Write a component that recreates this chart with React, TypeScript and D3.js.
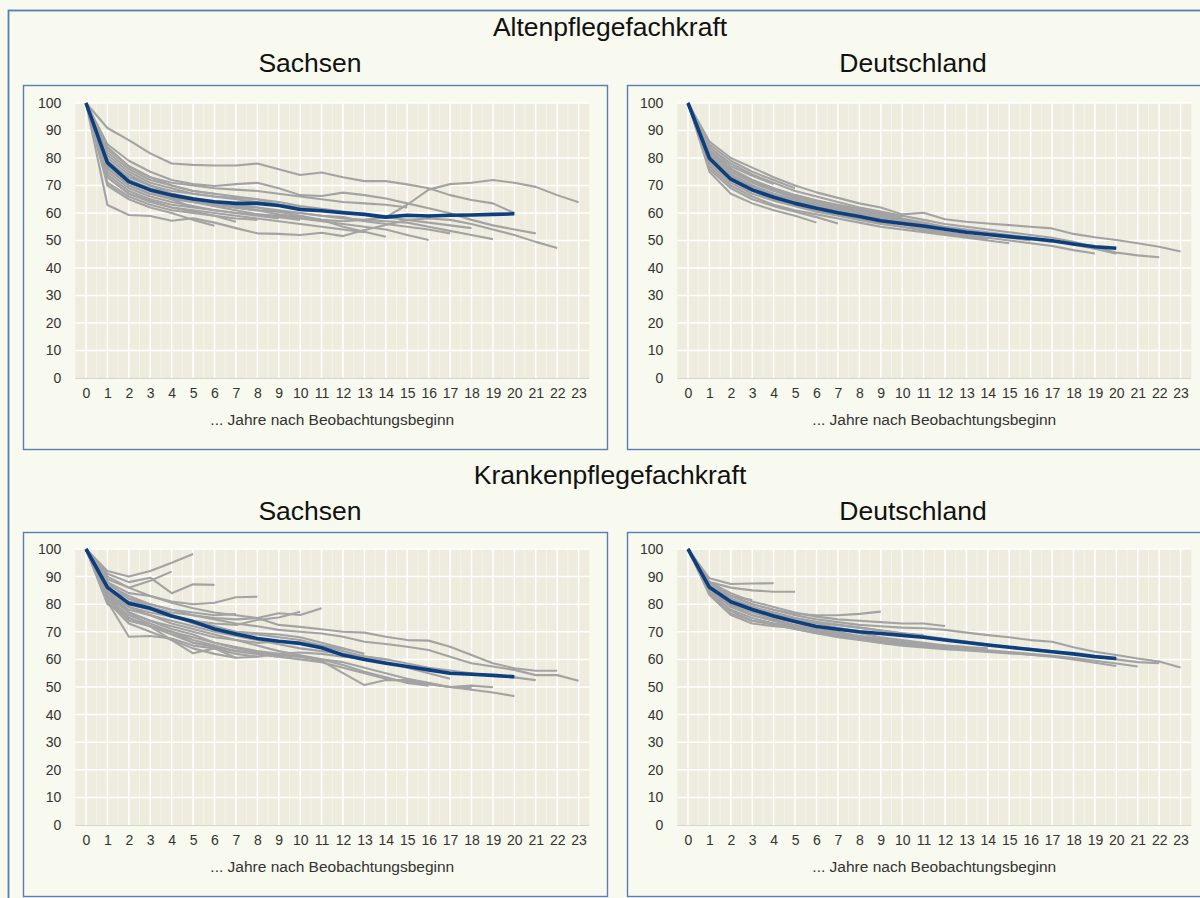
import React, { useEffect, useRef } from 'react';
import * as d3 from 'd3';

// categories and ticks
const years = ['0', '1', '2', '3', '4', '5', '6', '7', '8', '9', '10', '11', '12', '13', '14', '15', '16', '17', '18', '19', '20', '21', '22', '23'];
const yTicks = [0, 10, 20, 30, 40, 50, 60, 70, 80, 90, 100];

// Altenpflegefachkraft - Sachsen
const altenSachsenMean = [100, 78.3, 71.4, 68.4, 66.5, 65.1, 64.1, 63.5, 63.5, 62.7, 61.3, 60.8, 60.1, 59.5, 58.5, 59.2, 58.9, 59.2, 59.3, 59.5, 59.7];
const altenSachsenCohorts = [
  [100, 90.9, 86.5, 81.7, 78, 77.5, 77.3, 77.3, 78, 75.9, 73.8, 74.7, 73, 71.6, 71.6, 70.4, 69, 66.5, 64.7, 63.5, 60],
  [100, 85, 79, 75, 72, 70.5, 69.8, 70.5, 71, 69, 66.5, 66.2, 67.4, 66.5, 65.3, 63.5, 61.7, 59.9, 57.5, 55.5, 54, 52.6],
  [100, 80, 74, 70, 67, 65, 63.5, 62, 61, 59.5, 58.5, 57.5, 57, 57.5, 58.5, 63, 68.5, 70.5, 71, 72, 71, 69.5, 66.5, 63.9],
  [100, 62.9, 59.3, 58.9, 57.2, 58.1, 56.5, 54.5, 52.6, 52.4, 52, 52.8, 51.6, 53.8, 55.6, 57.5, 58, 57.5, 56, 54, 52, 49.5, 47.3],
  [100, 76, 70, 67, 65, 64, 63, 62, 61, 60.5, 60, 59, 58, 57.5, 57, 56.5, 55, 53.5, 52, 50.5],
  [100, 74, 68, 65, 63, 62, 61, 60, 59.5, 59, 58, 57, 56, 55, 54, 52, 50.2],
  [100, 78, 72, 69, 67, 65.5, 64, 63, 62, 60.5, 59, 57.5, 55, 53.2, 51.4],
  [100, 79, 73, 70, 68, 67, 66, 65.5, 65, 64, 62.5, 61.5, 60.5, 59.5, 58.5, 57.5, 56.5, 55.5, 54.5],
  [100, 77, 71, 68, 66, 64.5, 63.5, 62.5, 62, 61, 60, 59, 58.5, 57, 56, 55, 54, 52.6],
  [100, 73, 67, 64, 62, 61, 60, 59, 58, 57, 56, 55, 54, 53],
  [100, 84, 77, 73, 70, 68, 67, 66, 65, 63, 62, 61, 60],
  [100, 81, 75, 71, 69, 67, 66, 65, 64, 63, 62, 61],
  [100, 78, 72, 68, 66, 64, 62.5, 61, 59.5, 58.5, 57.5],
  [100, 75, 69, 66, 64, 62.5, 61, 60, 59, 58],
  [100, 71, 66, 63, 61, 60, 59, 58, 57.5],
  [100, 77, 70, 67, 65.5, 64, 63, 62, 61],
  [100, 73, 67, 64.5, 62, 60.5, 59, 56.8],
  [100, 70, 65, 62, 60, 57.5, 55.4],
  [100, 82, 76, 72, 70, 68, 67],
  [100, 79, 72, 68, 65, 62],
  [100, 83, 77, 73, 71, 70, 69, 68.5, 68, 67, 66, 65, 64, 63.5, 63, 62],
];

// Altenpflegefachkraft - Deutschland
const altenDeutschMean = [100, 79.9, 72.3, 68.4, 65.7, 63.5, 61.7, 60.1, 58.7, 57.2, 56.2, 55.3, 54.1, 53, 52.2, 51.4, 50.7, 49.9, 48.7, 47.7, 47.2];
const altenDeutschCohorts = [
  [100, 86, 80, 76.5, 73, 70, 67.5, 65.5, 63.5, 62, 59.5, 60.1, 57.7, 56.8, 56.2, 55.6, 55, 54.4, 52.4, 51.2, 50.2, 49, 47.7, 46],
  [100, 84, 78, 74, 71, 68, 66, 64, 62, 60.5, 59, 57.5, 56, 55, 54, 53, 52, 51, 49.5, 47.5, 45.6, 44.6, 43.9],
  [100, 82, 76, 72, 69, 66.5, 64.5, 62.5, 61, 59.5, 58, 56.5, 55, 54, 53, 52, 51, 50, 48.5, 47, 45.2],
  [100, 78, 71, 67, 64.5, 62.5, 60.5, 59, 57.5, 56, 55, 54, 53, 52, 51, 50, 49, 48, 46.5, 45.3],
  [100, 77, 70, 66, 63, 61, 59.5, 58, 56.5, 55, 54, 53, 52, 51, 50, 49],
  [100, 85, 79, 75, 72, 69],
  [100, 75, 67, 63.5, 61, 59, 56.5],
  [100, 76, 69, 65, 62.5, 60.5, 58.5, 56.2],
  [100, 81, 74, 70, 67, 65, 63, 61.5, 60],
  [100, 79, 72, 68, 65.5, 63, 61, 59.5, 58, 56.5],
  [100, 83, 76, 72, 69, 66.5, 64.5, 63, 61.5, 60, 58.5],
  [100, 80, 73, 69, 66, 64, 62, 60.5, 59, 57.5, 56, 54.5],
  [100, 82, 75, 71, 68, 65.5, 63.5, 62, 60.5, 59, 57.5, 56, 54.5],
  [100, 80.5, 73.5, 69.5, 66.5, 64, 62, 60.5, 59, 57.5, 56, 54.5, 53, 52],
  [100, 79, 72, 68, 65, 63, 61, 59.5, 58, 56.5, 55, 53.5, 52.5, 51.5, 50.5],
  [100, 81, 74, 70, 67, 64.5, 62.5, 61, 59.5, 58, 56.5, 55.5, 54.5, 53.5, 52.5, 51.5, 50.5, 49.5],
  [100, 82.5, 76, 71.5, 68.5, 66, 64, 62, 60, 58.5, 57, 55.5, 54, 53, 52, 51, 50],
  [100, 84, 77, 73.5, 70.5],
];

// Krankenpflegefachkraft - Sachsen
const krankenSachsenMean = [100, 86.1, 80.3, 78.5, 75.7, 73.7, 71, 69.2, 67.6, 66.6, 65.8, 64.2, 61.6, 60, 58.6, 57.4, 56.2, 55, 54.6, 54.2, 53.7];
const krankenSachsenCohorts = [
  [100, 92, 90, 92, 95, 98.2],
  [100, 89, 86, 88.5, 91.8],
  [100, 91, 88, 89.6, 84, 87.2, 87],
  [100, 88, 84, 83, 81, 80, 80.5, 82.5, 82.7],
  [100, 86, 82, 80, 78, 77, 76, 76.4],
  [100, 85, 81, 79, 77, 76, 75, 74.5, 75, 76.7, 76.1, 78.5],
  [100, 90, 86, 83, 80.5, 78.5, 77, 76, 75, 72.5, 71.8, 70.9, 70, 69.7, 68.2, 67, 66.8, 64.6, 61.6, 58.6, 56.8, 55.9, 55.9],
  [100, 87, 83, 80, 78, 76, 74.5, 73, 72, 70.7, 70, 69.4, 68.2, 66.4, 65.6, 64.6, 63.4, 61, 58.6, 57.4, 56.2, 54.3, 54.3, 52.3],
  [100, 84, 78, 76, 74, 72, 70, 68.5, 67, 65.5, 64, 63, 62, 61, 60, 58.5, 57, 56, 55, 54, 53.5, 52.5],
  [100, 82, 74, 72, 70, 68, 66, 64.5, 63, 62, 61, 60, 59, 57, 55, 53, 51.5, 50, 49, 48, 46.7],
  [100, 80, 75, 72, 69, 66, 64.5, 63, 62, 61, 60, 59, 57, 55, 53, 52, 51, 50, 49.6],
  [100, 81, 68.2, 68.5, 67.6, 65, 64, 62, 61, 62, 62.5, 62, 61, 60.5, 59, 57, 55, 53],
  [100, 83, 77, 74, 71, 69, 66, 64, 62.5, 61.5, 61, 59.5, 55, 50.7, 52.5, 52.5, 51, 50, 50.5, 49.9],
  [100, 86, 79, 76, 73, 71, 69, 67, 65, 63, 61.5, 60, 58, 55.5, 53.5, 51.5, 50.5],
  [100, 84, 77, 74, 72, 70, 68, 67, 66, 66.5, 66, 65, 64],
  [100, 84, 79, 77, 75.5, 74, 73, 72.5, 74.3, 75.2, 77.3],
  [100, 83, 75, 72, 70, 67, 65, 63, 62, 61],
  [100, 81, 73, 70, 67, 64, 62, 60.6, 61],
  [100, 85, 77, 72, 67, 62.2, 64, 60.6],
  [100, 82, 76, 73, 70, 66, 65],
  [100, 85, 80, 78, 76, 74, 72, 70, 69, 68, 67, 65, 63, 61, 60],
  [100, 88, 82, 79, 76, 73, 71, 70, 69.5, 69, 68, 66, 64, 62],
];

// Krankenpflegefachkraft - Deutschland
const krankenDeutschMean = [100, 86.1, 80.9, 78.1, 75.7, 73.7, 71.9, 70.9, 70, 69.4, 68.7, 68, 67, 66.1, 65.2, 64.4, 63.6, 62.8, 62, 61, 60.3];
const krankenDeutschCohorts = [
  [100, 89.4, 87.3, 87.5, 87.6],
  [100, 88, 86, 85, 84.5, 84.5],
  [100, 87, 83, 80, 78, 76.5, 76, 76, 76.5, 77.3],
  [100, 88, 84, 81, 79, 77, 75.5, 74.5, 74, 73.5, 73, 73, 72.1],
  [100, 88, 83, 80, 78, 76, 74.5, 73.5, 72.5, 72, 71.5, 71.3, 70.7, 69.7, 68.8, 68, 67, 66.4, 64.4, 62.8, 61.6, 60.3, 59.2, 57.1],
  [100, 87, 82, 79, 77, 75, 73.5, 72.5, 71.5, 70.5, 69.5, 68.5, 67.5, 66.5, 65.5, 64.5, 63.8, 63, 62, 61, 60, 59, 58.6],
  [100, 85, 79, 76, 74, 72, 70.5, 69.5, 68.5, 67.5, 66.5, 65.5, 64.8, 64, 63.3, 62.7, 62, 61.3, 60.5, 59.5, 58.5, 57.4],
  [100, 84, 78, 75, 73, 71, 69.5, 68.5, 67.5, 66.5, 65.5, 65, 64.3, 63.6, 63, 62.4, 61.7, 61, 60, 58.8, 57.6],
  [100, 84, 76.5, 74, 72.5, 71, 69.5, 68, 67, 66, 65, 64.3, 63.7, 63.2, 62.7, 62.2, 61.7, 61.2],
  [100, 85, 77.5, 74, 73, 72, 70, 69, 68, 66.5, 65.5, 64.8, 64.2, 63.6, 63, 62.5],
  [100, 86, 80, 77.5, 75, 73.5, 72, 71, 69.5, 68, 67, 66, 65, 64.5, 64],
  [100, 85, 80, 77, 74.5, 72.5, 71, 70, 68.5, 67, 66, 65.5, 65, 64.5],
  [100, 87, 82, 79, 77, 75, 73.5, 72.5, 71.5, 70.5, 69.5, 68.8],
  [100, 83.3, 76.1, 73, 72, 71.5, 70.5, 69, 67.5, 66, 65.5],
  [100, 86, 81, 78.5, 76.5, 74.5, 73, 71.5, 70],
  [100, 85, 79.5, 76, 74, 72, 70.5, 69],
  [100, 87, 81, 78, 75.5, 73.5, 71.5],
  [100, 88, 83, 81.5],
];

const W = 1200;
const H = 898;
const FONT = '"Liberation Sans", Arial, Helvetica, sans-serif';
const PLOT_W = 514;

const panels = [
  { name: 'Sachsen', mean: altenSachsenMean, cohorts: altenSachsenCohorts, box: [23, 85, 584, 364], plot: [75.3, 103, 378], titleX: 310, titleY: 72 },
  { name: 'Deutschland', mean: altenDeutschMean, cohorts: altenDeutschCohorts, box: [627, 85, 580, 364], plot: [677.3, 103, 378], titleX: 913, titleY: 72 },
  { name: 'Sachsen', mean: krankenSachsenMean, cohorts: krankenSachsenCohorts, box: [23, 532, 584, 364], plot: [75.3, 549, 825], titleX: 310, titleY: 520 },
  { name: 'Deutschland', mean: krankenDeutschMean, cohorts: krankenDeutschCohorts, box: [627, 532, 580, 364], plot: [677.3, 549, 825], titleX: 913, titleY: 520 },
];

const App = () => {
  const ref = useRef<SVGSVGElement | null>(null);

  useEffect(() => {
    const svg = d3.select(ref.current);
    svg.selectAll('*').remove();

    svg.append('rect').attr('width', W).attr('height', H).attr('fill', '#f8f9ef');
    svg.append('rect')
      .attr('x', 8.5).attr('y', 10.5).attr('width', W).attr('height', H)
      .attr('fill', 'none').attr('stroke', '#5b7cb5').attr('stroke-width', 1.8);

    svg.append('text').attr('x', 610).attr('y', 36).attr('text-anchor', 'middle')
      .style('font-family', FONT).style('font-size', '26.5px').attr('fill', '#111')
      .text('Altenpflegefachkraft');
    svg.append('text').attr('x', 610).attr('y', 484).attr('text-anchor', 'middle')
      .style('font-family', FONT).style('font-size', '26.5px').attr('fill', '#111')
      .text('Krankenpflegefachkraft');

    panels.forEach((p) => {
      const [bx, by, bw, bh] = p.box;
      const [left, top, bottom] = p.plot;
      const g = svg.append('g');

      g.append('rect')
        .attr('x', bx + 0.5).attr('y', by + 0.5).attr('width', bw).attr('height', bh)
        .attr('fill', '#f8f9ef').attr('stroke', '#5b7db7').attr('stroke-width', 1.4);

      g.append('text').attr('x', p.titleX).attr('y', p.titleY).attr('text-anchor', 'middle')
        .style('font-family', FONT).style('font-size', '26.5px').attr('fill', '#111')
        .text(p.name);

      const x = d3.scalePoint<string>().domain(years).range([left, left + PLOT_W]).padding(0.5);
      const y = d3.scaleLinear().domain([0, 100]).range([bottom, top]);
      const step = x.step();

      g.append('rect')
        .attr('x', left).attr('y', top).attr('width', PLOT_W).attr('height', bottom - top)
        .attr('fill', '#edecde');

      // minor grid at category boundaries
      g.selectAll('.minor').data(years.slice(1)).enter().append('line')
        .attr('x1', (d) => (x(d) as number) - step / 2).attr('x2', (d) => (x(d) as number) - step / 2)
        .attr('y1', top).attr('y2', bottom)
        .attr('stroke', '#ffffff').attr('stroke-opacity', 0.45).attr('stroke-width', 1);

      g.selectAll('.vgrid').data(years).enter().append('line')
        .attr('x1', (d) => x(d) as number).attr('x2', (d) => x(d) as number)
        .attr('y1', top).attr('y2', bottom)
        .attr('stroke', '#ffffff').attr('stroke-width', 1.5);

      g.selectAll('.hgrid').data(yTicks.slice(1)).enter().append('line')
        .attr('x1', left).attr('x2', left + PLOT_W)
        .attr('y1', (d) => y(d)).attr('y2', (d) => y(d))
        .attr('stroke', '#ffffff').attr('stroke-width', 1.5);

      g.append('line')
        .attr('x1', left).attr('x2', left + PLOT_W).attr('y1', bottom + 0.5).attr('y2', bottom + 0.5)
        .attr('stroke', '#d6d6ca').attr('stroke-width', 1);

      const line = d3.line<number>()
        .x((d, i) => x(years[i]) as number)
        .y((d) => y(d));

      g.selectAll('.cohort').data(p.cohorts).enter().append('path')
        .attr('d', (d) => line(d))
        .attr('fill', 'none').attr('stroke', '#a3a3a3').attr('stroke-width', 2.1)
        .attr('stroke-linejoin', 'round');

      g.append('path')
        .attr('d', line(p.mean))
        .attr('fill', 'none').attr('stroke', '#0d3f7f').attr('stroke-width', 3.6)
        .attr('stroke-linejoin', 'round');

      const yAxis = g.append('g')
        .attr('transform', `translate(${left - 14},0)`)
        .call(d3.axisLeft(y).tickValues(yTicks).tickSize(0).tickPadding(0));
      yAxis.select('.domain').remove();
      yAxis.selectAll('text').style('font-family', FONT).style('font-size', '14px').attr('fill', '#333');

      const xAxis = g.append('g')
        .attr('transform', `translate(0,${bottom + 10})`)
        .call(d3.axisBottom(x).tickSize(0).tickPadding(0));
      xAxis.select('.domain').remove();
      xAxis.selectAll('text').style('font-family', FONT).style('font-size', '14px').attr('fill', '#333');

      g.append('text')
        .attr('x', left + PLOT_W / 2).attr('y', bottom + 47).attr('text-anchor', 'middle')
        .style('font-family', FONT).style('font-size', '15.5px').attr('fill', '#333')
        .text('... Jahre nach Beobachtungsbeginn');
    });
  }, []);

  return (
    <svg ref={ref} width={W} height={H} style={{ position: 'absolute', left: 0, top: 0 }}></svg>
  );
};

export default App;
